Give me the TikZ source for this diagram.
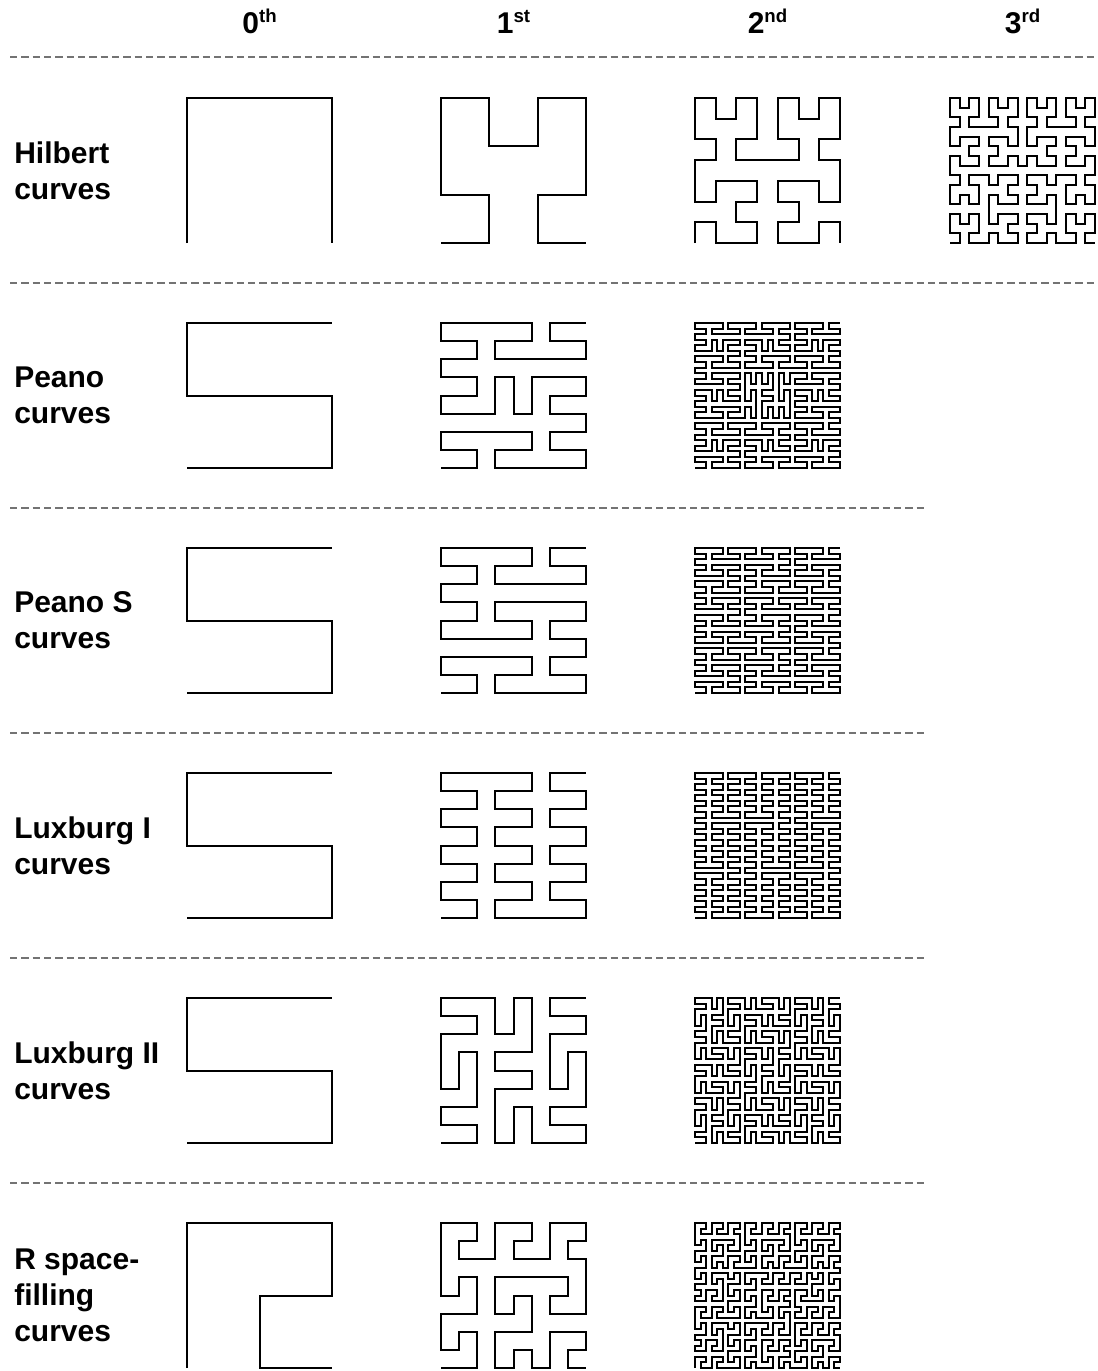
\documentclass[tikz,border=0pt]{standalone}
\usepackage{fontspec}
\setmainfont{Liberation Sans}

% ---------- space-filling curve machinery ----------
\def\AppendPt#1#2{\xdef\CurvePath{\CurvePath\CurveSep(#1,#2)}\gdef\CurveSep{--}}
\def\Emit#1#2#3#4#5#6#7#8{% M, a,b,c,d, ox, oy, rev
  \begingroup
  \ifnum#1=1
    \def\SFpt##1##2{\AppendPt{\the\numexpr(#2)*(##1)+(#3)*(##2)+(#6)\relax}{\the\numexpr(#4)*(##1)+(#5)*(##2)+(#7)\relax}}%
    \ifnum#8=0 \SeedF\else\SeedR\fi
  \else
    \def\SFblk##1##2##3##4##5##6##7{%
      \edef\EmitNext{\noexpand\Emit
        {\the\numexpr(#1)/\Base\relax}%
        {\the\numexpr(#2)*(##3)+(#3)*(##5)\relax}%
        {\the\numexpr(#2)*(##4)+(#3)*(##6)\relax}%
        {\the\numexpr(#4)*(##3)+(#5)*(##5)\relax}%
        {\the\numexpr(#4)*(##4)+(#5)*(##6)\relax}%
        {\the\numexpr(#6)+(#1)*((#2)*(##1)+(#3)*(##2))\relax}%
        {\the\numexpr(#7)+(#1)*((#4)*(##1)+(#5)*(##2))\relax}%
        {\ifnum#8=##7 0\else1\fi}}%
      \EmitNext}%
    \ifnum#8=0 \GenF\else\GenR\fi
  \fi
  \endgroup}
\def\ReverseInto#1#2{%
  \begingroup
  \gdef\RevTmp{}%
  \def\SFpt##1##2{\xdef\RevTmp{\noexpand\SFpt{##1}{##2}\unexpanded\expandafter{\RevTmp}}}%
  \def\SFblk##1##2##3##4##5##6##7{\xdef\RevTmp{\noexpand\SFblk{##1}{##2}{##3}{##4}{##5}{##6}{##7}\unexpanded\expandafter{\RevTmp}}}%
  #1%
  \endgroup
  \let#2\RevTmp}
\def\SetCurve#1#2#3{\def\Base{#1}\def\SeedF{#2}\def\GenF{#3}%
  \ReverseInto\SeedF\SeedR\ReverseInto\GenF\GenR}
\def\DrawPathNow#1{\draw[sfc] #1;}
\newcommand\DrawSFC[4]{% M, unit, cx, cy
  \gdef\CurvePath{}\gdef\CurveSep{}%
  \Emit{#1}{1}{0}{0}{1}{0}{0}{0}%
  \begin{scope}[shift={(#3,#4)},x=#2,y=#2]
    \expandafter\DrawPathNow\expandafter{\CurvePath}
  \end{scope}}
\newcommand\sups[1]{\raisebox{8pt}{\fontsize{14}{14}\selectfont #1}}

% seeds
\def\SeedHilbert{\SFpt{-1}{-1}\SFpt{-1}{1}\SFpt{1}{1}\SFpt{1}{-1}}
\def\SeedRow{\SFpt{-1}{-1}\SFpt{0}{-1}\SFpt{1}{-1}\SFpt{1}{0}\SFpt{0}{0}\SFpt{-1}{0}\SFpt{-1}{1}\SFpt{0}{1}\SFpt{1}{1}}
\def\SeedMeander{\SFpt{-1}{-1}\SFpt{-1}{0}\SFpt{-1}{1}\SFpt{0}{1}\SFpt{1}{1}\SFpt{1}{0}\SFpt{0}{0}\SFpt{0}{-1}\SFpt{1}{-1}}
% generators: bx by a b c d rev
\def\GenHilbert{\SFblk{-1}{-1}{0}{1}{1}{0}{0}\SFblk{-1}{1}{1}{0}{0}{1}{0}\SFblk{1}{1}{1}{0}{0}{1}{0}\SFblk{1}{-1}{0}{-1}{-1}{0}{0}}
\def\GenPeano{\SFblk{-1}{-1}{1}{0}{0}{1}{0}\SFblk{0}{-1}{1}{0}{0}{-1}{0}\SFblk{1}{-1}{1}{0}{0}{1}{0}%
  \SFblk{1}{0}{-1}{0}{0}{1}{0}\SFblk{0}{0}{0}{-1}{-1}{0}{0}\SFblk{-1}{0}{-1}{0}{0}{1}{0}%
  \SFblk{-1}{1}{1}{0}{0}{1}{0}\SFblk{0}{1}{1}{0}{0}{-1}{0}\SFblk{1}{1}{1}{0}{0}{1}{0}}
\def\GenPeanoS{\SFblk{-1}{-1}{1}{0}{0}{1}{0}\SFblk{0}{-1}{1}{0}{0}{-1}{0}\SFblk{1}{-1}{1}{0}{0}{1}{0}%
  \SFblk{1}{0}{-1}{0}{0}{1}{0}\SFblk{0}{0}{-1}{0}{0}{-1}{0}\SFblk{-1}{0}{-1}{0}{0}{1}{0}%
  \SFblk{-1}{1}{1}{0}{0}{1}{0}\SFblk{0}{1}{1}{0}{0}{-1}{0}\SFblk{1}{1}{1}{0}{0}{1}{0}}
\def\GenLuxI{\SFblk{-1}{-1}{1}{0}{0}{1}{0}\SFblk{-1}{0}{-1}{0}{0}{1}{0}\SFblk{-1}{1}{1}{0}{0}{1}{0}%
  \SFblk{0}{1}{1}{0}{0}{-1}{0}\SFblk{0}{0}{-1}{0}{0}{-1}{0}\SFblk{0}{-1}{1}{0}{0}{-1}{0}%
  \SFblk{1}{-1}{1}{0}{0}{1}{0}\SFblk{1}{0}{-1}{0}{0}{1}{0}\SFblk{1}{1}{1}{0}{0}{1}{0}}
\def\GenLuxII{\SFblk{-1}{-1}{1}{0}{0}{1}{0}\SFblk{-1}{0}{0}{-1}{1}{0}{0}\SFblk{-1}{1}{1}{0}{0}{1}{0}%
  \SFblk{0}{1}{0}{1}{-1}{0}{0}\SFblk{0}{0}{-1}{0}{0}{-1}{0}\SFblk{0}{-1}{0}{1}{-1}{0}{0}%
  \SFblk{1}{-1}{1}{0}{0}{1}{0}\SFblk{1}{0}{0}{-1}{1}{0}{0}\SFblk{1}{1}{1}{0}{0}{1}{0}}
\def\GenMeander{\SFblk{-1}{-1}{0}{1}{1}{0}{0}\SFblk{-1}{0}{0}{1}{1}{0}{0}\SFblk{-1}{1}{1}{0}{0}{1}{0}%
  \SFblk{0}{1}{1}{0}{0}{1}{0}\SFblk{1}{1}{1}{0}{0}{1}{0}\SFblk{1}{0}{-1}{0}{0}{-1}{0}%
  \SFblk{0}{0}{0}{-1}{-1}{0}{0}\SFblk{0}{-1}{0}{-1}{-1}{0}{0}\SFblk{1}{-1}{1}{0}{0}{1}{0}}

\begin{document}
\begin{tikzpicture}[x=0.75pt,y=-0.75pt,
  sfc/.style={line width=1.5pt,line join=miter,line cap=butt,draw=black},
  dashline/.style={draw=black!55,line width=1pt,dash pattern=on 5.5pt off 3pt},
  hdr/.style={anchor=base,inner sep=0pt,font=\fontsize{22.5}{27}\selectfont\bfseries},
  lbl/.style={anchor=west,align=left,inner sep=0pt,font=\fontsize{22.5}{27}\selectfont\bfseries}]
\useasboundingbox (0,0) rectangle (1097,1371);

% column headers
\node[hdr] (h0) at (259.5,33) {0\sups{th}};
\node[hdr] (h1) at (513.5,33) {1\sups{st}};
\node[hdr] (h2) at (767.5,33) {2\sups{nd}};
\node[hdr] (h3) at (1022.5,33) {3\sups{rd}};

% dashed separators
\coordinate (d1a) at (10,57);   \coordinate (d1b) at (1097,57);
\coordinate (d2a) at (10,283);  \coordinate (d2b) at (1097,283);
\coordinate (d3a) at (10,508);  \coordinate (d3b) at (925,508);
\coordinate (d4a) at (10,733);  \coordinate (d4b) at (925,733);
\coordinate (d5a) at (10,958);  \coordinate (d5b) at (925,958);
\coordinate (d6a) at (10,1183); \coordinate (d6b) at (925,1183);
\draw[dashline] (d1a) -- (d1b);
\draw[dashline] (d2a) -- (d2b);
\draw[dashline] (d3a) -- (d3b);
\draw[dashline] (d4a) -- (d4b);
\draw[dashline] (d5a) -- (d5b);
\draw[dashline] (d6a) -- (d6b);

% row labels
\node[lbl] (lH)  at (14,170.5)  {Hilbert\\curves};
\node[lbl] (lP)  at (14,395.5)  {Peano\\curves};
\node[lbl] (lPS) at (14,620.5)  {Peano S\\curves};
\node[lbl] (lL1) at (14,845.5)  {Luxburg I\\curves};
\node[lbl] (lL2) at (14,1070.5) {Luxburg II\\curves};
\node[lbl] (lR)  at (14,1295.5) {R space-\\filling\\curves};

% Hilbert
\SetCurve{2}{\SeedHilbert}{\GenHilbert}
\DrawSFC{1}{54.375pt}{259.5}{170.5}
\DrawSFC{2}{18.125pt}{513.5}{170.5}
\DrawSFC{4}{7.767857pt}{767.5}{170.5}
\DrawSFC{8}{3.625pt}{1022.5}{170.5}
% Peano
\SetCurve{3}{\SeedRow}{\GenPeano}
\DrawSFC{1}{54.375pt}{259.5}{395.5}
\DrawSFC{3}{13.59375pt}{513.5}{395.5}
\DrawSFC{9}{4.182692pt}{767.5}{395.5}
% Peano S
\SetCurve{3}{\SeedRow}{\GenPeanoS}
\DrawSFC{1}{54.375pt}{259.5}{620.5}
\DrawSFC{3}{13.59375pt}{513.5}{620.5}
\DrawSFC{9}{4.182692pt}{767.5}{620.5}
% Luxburg I
\SetCurve{3}{\SeedRow}{\GenLuxI}
\DrawSFC{1}{54.375pt}{259.5}{845.5}
\DrawSFC{3}{13.59375pt}{513.5}{845.5}
\DrawSFC{9}{4.182692pt}{767.5}{845.5}
% Luxburg II
\SetCurve{3}{\SeedRow}{\GenLuxII}
\DrawSFC{1}{54.375pt}{259.5}{1070.5}
\DrawSFC{3}{13.59375pt}{513.5}{1070.5}
\DrawSFC{9}{4.182692pt}{767.5}{1070.5}
% R (meander)
\SetCurve{3}{\SeedMeander}{\GenMeander}
\DrawSFC{1}{54.375pt}{259.5}{1295.5}
\DrawSFC{3}{13.59375pt}{513.5}{1295.5}
\DrawSFC{9}{4.182692pt}{767.5}{1295.5}
\end{tikzpicture}
\end{document}
